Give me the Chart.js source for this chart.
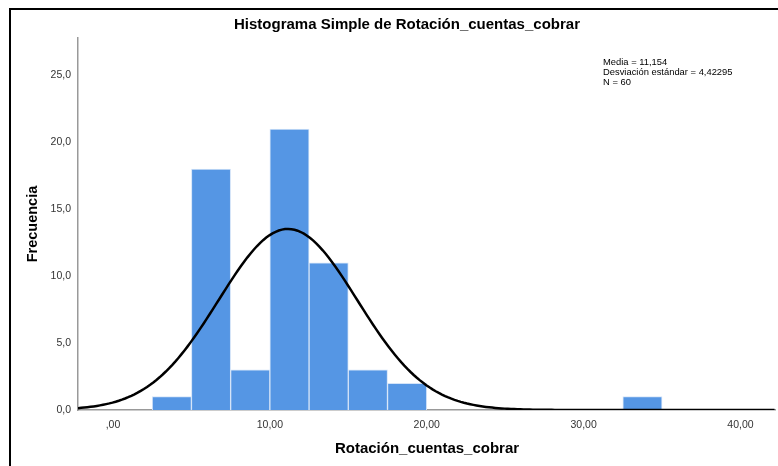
<!DOCTYPE html>
<html>
<head>
<meta charset="utf-8">
<script src="https://cdn.jsdelivr.net/npm/chart.js@4"></script>
<style>
  body { margin: 0; background: #fff; }
  canvas { display: block; }
</style>
</head>
<body>
<canvas id="chart" width="778" height="466"></canvas>
<script>
// histogram bins (lower edge, upper edge) and frequencies
const binStarts = [2.5, 5, 7.5, 10, 12.5, 15, 17.5, 32.5];
const binWidth = 2.5;
const frequencies = [1, 18, 3, 21, 11, 3, 2, 1];

// stats shown in the chart
const media = 11.154;
const desviacion = 4.42295;
const n = 60;

const yTicks = [0, 5, 10, 15, 20, 25];
const xTicks = [0, 10, 20, 30, 40];

const xMin = -2.23;
const xMax = 42.2;
const yMax = 27.8;

const font = '"Liberation Sans", Arial, sans-serif';

const barData = binStarts.map((s, i) => ({ x: s + binWidth / 2, y: frequencies[i] }));

// fitted normal curve scaled to counts
const curveData = [];
for (let x = xMin; x <= xMax + 0.01; x += 0.2) {
  const z = (x - media) / desviacion;
  const y = n * binWidth / (desviacion * Math.sqrt(2 * Math.PI)) * Math.exp(-0.5 * z * z);
  curveData.push({ x: x, y: y });
}

function comma(v, d) {
  return v.toFixed(d).replace('.', ',');
}

const textPlugin = {
  id: 'texts',
  afterDraw(chart) {
    const ctx = chart.ctx;
    ctx.save();
    // frame
    ctx.strokeStyle = '#000';
    ctx.lineWidth = 2;
    ctx.beginPath();
    ctx.moveTo(10, 466);
    ctx.lineTo(10, 9);
    ctx.lineTo(778, 9);
    ctx.stroke();

    ctx.fillStyle = '#000';
    ctx.textAlign = 'center';
    ctx.textBaseline = 'middle';
    ctx.font = 'bold 15px ' + font;
    ctx.fillText('Histograma Simple de Rotación_cuentas_cobrar', 407, 25);
    ctx.fillText('Rotación_cuentas_cobrar', 427, 449);

    ctx.save();
    ctx.font = 'bold 14.5px ' + font;
    ctx.translate(33, 224);
    ctx.rotate(-Math.PI / 2);
    ctx.fillText('Frecuencia', 0, 0);
    ctx.restore();

    ctx.textAlign = 'left';
    ctx.font = '9.4px ' + font;
    ctx.fillText('Media = ' + comma(media, 3), 603, 62);
    ctx.fillText('Desviación estándar = ' + comma(desviacion, 5), 603, 72);
    ctx.fillText('N = ' + n, 603, 82);
    ctx.restore();
  }
};

new Chart(document.getElementById('chart'), {
  data: {
    datasets: [
      {
        type: 'line',
        data: curveData,
        borderColor: '#000',
        borderWidth: 2.5,
        pointRadius: 0,
        tension: 0,
        order: 1
      },
      {
        type: 'bar',
        data: barData,
        backgroundColor: '#5596e4',
        borderColor: '#d4e4f8',
        borderWidth: 1,
        barPercentage: 1,
        categoryPercentage: 1,
        order: 2
      }
    ]
  },
  options: {
    responsive: false,
    animation: false,
    layout: { padding: { left: 20, top: 38, right: 3, bottom: 0 } },
    plugins: { legend: { display: false }, tooltip: { enabled: false } },
    scales: {
      x: {
        type: 'linear',
        min: xMin,
        max: xMax,
        offset: false,
        afterFit(scale) { scale.height = 56; },
        afterBuildTicks(scale) { scale.ticks = xTicks.map(v => ({ value: v })); },
        grid: { display: false, drawTicks: false, offset: false },
        border: { display: true, color: '#999', width: 1.5 },
        ticks: {
          padding: 9,
          color: '#333',
          font: { family: font, size: 10.5 },
          callback: v => v === 0 ? ',00' : comma(v, 2)
        }
      },
      y: {
        min: 0,
        max: yMax,
        afterFit(scale) { scale.width = 58; },
        afterBuildTicks(scale) { scale.ticks = yTicks.map(v => ({ value: v })); },
        grid: { display: false, drawTicks: false },
        border: { display: true, color: '#999', width: 1.5 },
        ticks: {
          padding: 7,
          color: '#333',
          font: { family: font, size: 10.5 },
          callback: v => comma(v, 1)
        }
      }
    }
  },
  plugins: [textPlugin]
});
</script>
</body>
</html>
